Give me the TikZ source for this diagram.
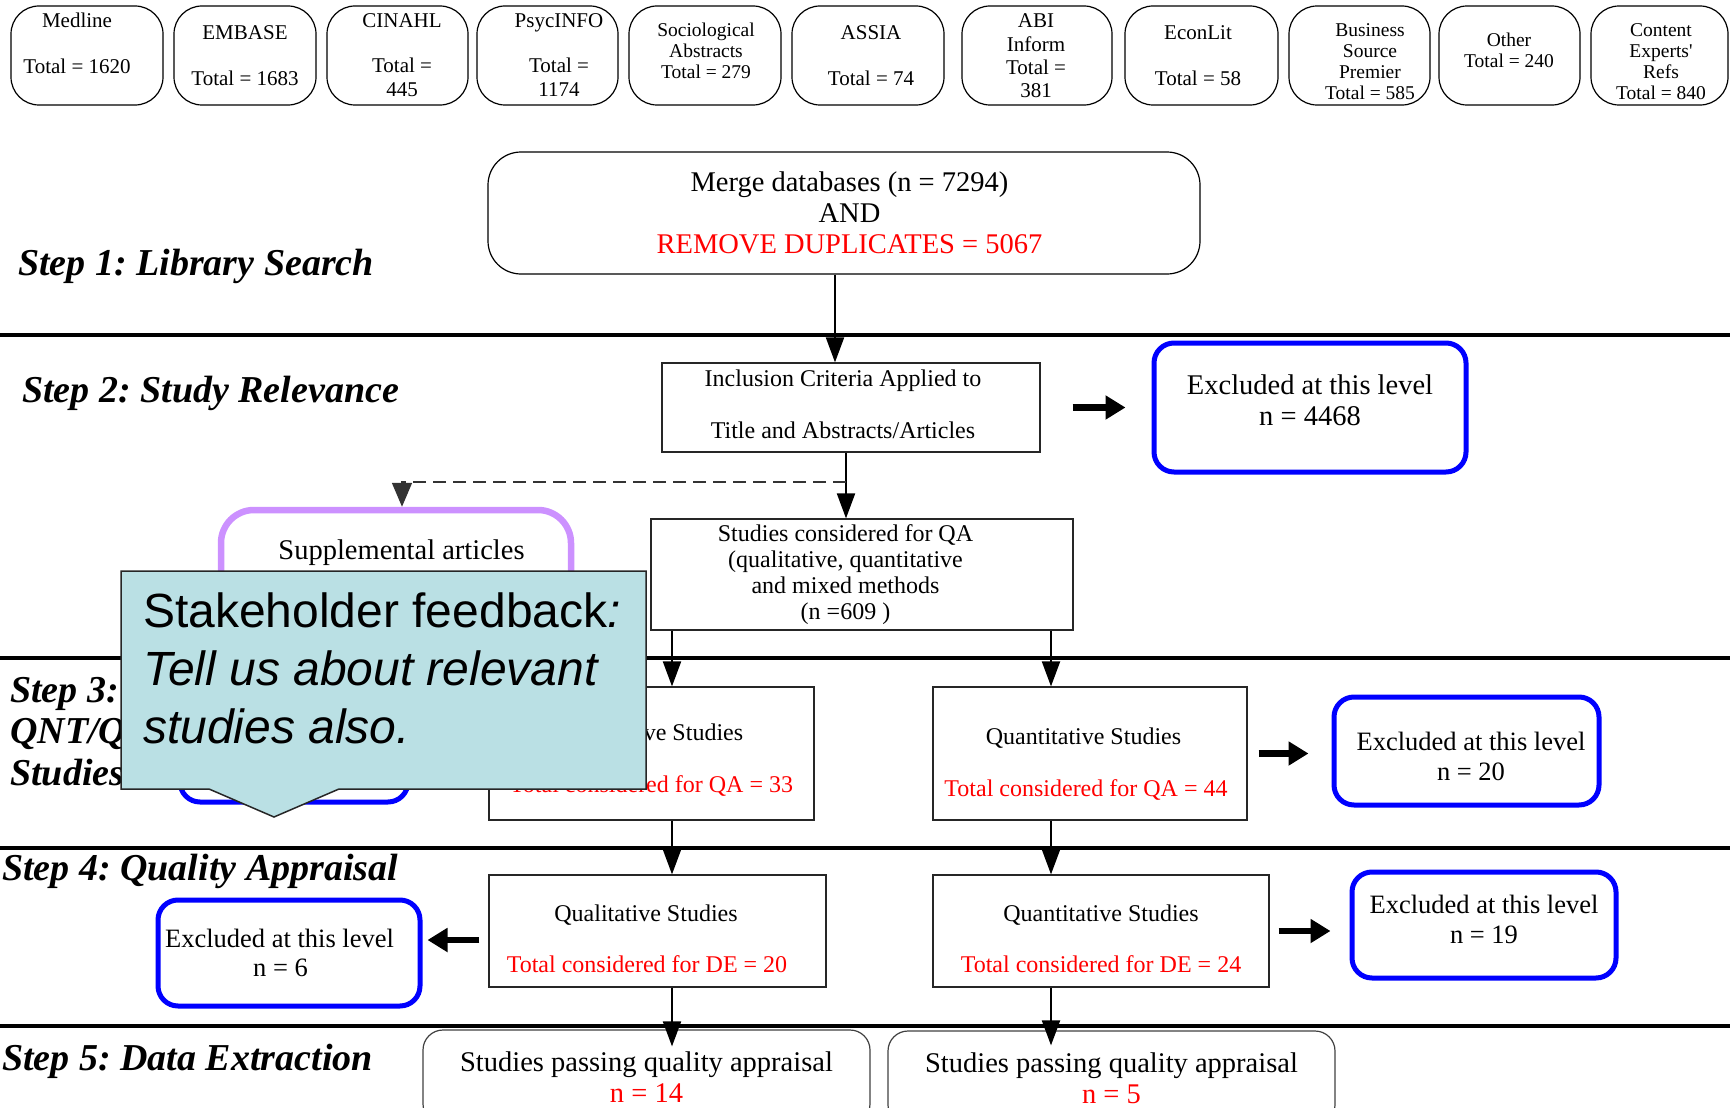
\documentclass[tikz,border=0pt]{standalone}
\usepackage{fontspec}
\setmainfont{Liberation Serif}
\setsansfont{Liberation Sans}
\usetikzlibrary{arrows.meta}
\definecolor{suppurple}{RGB}{204,145,255}
\definecolor{calloutblue}{RGB}{186,224,228}
\definecolor{exclblue}{RGB}{0,0,255}
\frenchspacing

\begin{document}
\begin{tikzpicture}[x=1pt, y=-1pt,
    dbbox/.style={draw, line width=1.2pt, rounded corners=28pt, minimum height=99pt, inner sep=0pt},
    dbtext/.style={align=center, inner sep=0pt, font=\fontsize{21}{23.3}\selectfont},
    dbsmall/.style={align=center, inner sep=0pt, font=\fontsize{19.5}{21}\selectfont},
    mergebox/.style={draw, line width=1.2pt, rounded corners=33pt, align=center, inner sep=2pt, font=\fontsize{28.5}{31}\selectfont},
    stagebox/.style={draw=black!85, line width=1.2pt, align=center, inner sep=2pt, font=\fontsize{24}{26}\selectfont},
    exclbox/.style={draw=exclblue, line width=5pt, rounded corners=20pt, align=center, inner sep=2pt, font=\fontsize{26.5}{29.5}\selectfont},
    suppbox/.style={draw=suppurple, line width=6.5pt, rounded corners=33pt, inner sep=2pt, font=\fontsize{28.5}{31}\selectfont},
    passbox/.style={draw=black!75, line width=1.2pt, rounded corners=20pt, align=center, inner sep=2pt, font=\fontsize{28.5}{31}\selectfont},
    steplabel/.style={inner sep=0pt, font=\bfseries\itshape\fontsize{38}{41.5}\selectfont},
    flow/.style={line width=2pt, -{Triangle[length=25pt,width=18pt]}},
    bigflow/.style={line width=6.5pt, -{Triangle[length=20pt,width=23pt]}},
    dashflow/.style={line width=1.7pt, draw=black!80, dash pattern=on 12.7pt off 7.3pt, -{Triangle[length=24pt,width=20pt]}},
    sepline/.style={line width=3.5pt},
    fbshape/.style={fill=calloutblue, draw=black!85, line width=1.5pt},
    fbtext/.style={align=left, inner sep=0pt, font=\sffamily\fontsize{48}{58}\selectfont}]
    \useasboundingbox (0,0) rectangle (1730,1108);

    % databases
    \node[dbbox, minimum width=152pt] (medline) at (87,55.5) {};
    \node[dbbox, minimum width=142pt] (embase) at (245,55.5) {};
    \node[dbbox, minimum width=141pt] (cinahl) at (397.5,55.5) {};
    \node[dbbox, minimum width=141pt] (psycinfo) at (547.5,55.5) {};
    \node[dbbox, minimum width=152pt] (socabs) at (705,55.5) {};
    \node[dbbox, minimum width=152pt] (assia) at (868,55.5) {};
    \node[dbbox, minimum width=150pt] (abi) at (1037,55.5) {};
    \node[dbbox, minimum width=153pt] (econlit) at (1201.5,55.5) {};
    \node[dbbox, minimum width=141pt] (bsp) at (1359.5,55.5) {};
    \node[dbbox, minimum width=141pt] (other) at (1509.5,55.5) {};
    \node[dbbox, minimum width=137pt] (experts) at (1659.5,55.5) {};

    \node[dbtext] (medlinetxt) at (77,43) {Medline\\[23pt]Total = 1620};
    \node[dbtext] (embasetxt) at (245,56) {EMBASE\\[23pt]Total = 1683};
    \node[dbtext] (cinahltxt) at (402,55) {CINAHL\\[22pt]Total =\\445};
    \node[dbtext] (psycinfotxt) at (559,55) {PsycINFO\\[22pt]Total =\\1174};
    \node[dbsmall] (socabstxt) at (706,50.5) {Sociological\\Abstracts\\Total = 279};
    \node[dbtext] (assiatxt) at (871,56) {ASSIA\\[23pt]Total = 74};
    \node[dbtext] (abitxt) at (1036,56) {ABI\\Inform\\Total =\\381};
    \node[dbtext] (econlittxt) at (1198,56) {EconLit\\[23pt]Total = 58};
    \node[dbsmall] (bsptxt) at (1370,61.5) {Business\\Source\\Premier\\Total = 585};
    \node[dbsmall] (othertxt) at (1509,50) {Other\\Total = 240};
    \node[dbsmall] (expertstxt) at (1661,62) {Content\\Experts{\addfontfeature{Ligatures=TeXOff}'}\\Refs\\Total = 840};

    % step rules and labels
    \draw[sepline] (0,335) -- (1730,335);
    \draw[sepline] (0,658) -- (1730,658);
    \draw[sepline] (0,848) -- (1730,848);
    \draw[sepline] (0,1026) -- (1730,1026);

    \node[steplabel, anchor=base west] (step1) at (18,275) {Step 1: Library Search};
    \node[steplabel, anchor=base west] (step2) at (22,402) {Step 2: Study Relevance};
    \node[steplabel, align=left, anchor=north west] (step3) at (10,677) {Step 3:\\QNT/QL\\Studies};
    \node[steplabel, anchor=base west] (step4) at (2,880) {Step 4: Quality Appraisal};
    \node[steplabel, anchor=base west] (step5) at (2,1070) {Step 5: Data Extraction};

    % flow boxes
    \node[mergebox, minimum width=712pt, minimum height=122pt] (merge) at (844,213)
        {\rule{11pt}{0pt}Merge databases (n = 7294)\\\rule{11pt}{0pt}AND\\\rule{11pt}{0pt}\textcolor{red}{REMOVE DUPLICATES = 5067}};
    \node[stagebox, minimum width=378pt, minimum height=89pt] (incl) at (851,407.5)
        {Inclusion Criteria Applied to\rule{16pt}{0pt}\\[26pt]Title and Abstracts/Articles\rule{16pt}{0pt}\rule[-7pt]{0pt}{7pt}};
    \node[exclbox, minimum width=312pt, minimum height=129pt, font=\fontsize{28.5}{31}\selectfont] (excl2) at (1310,407.5)
        {Excluded at this level\\n = 4468\rule[-14pt]{0pt}{14pt}};
    \node[suppbox, minimum width=350pt, minimum height=120pt, text depth=40pt] (supp) at (396,570)
        {\rule{11pt}{0pt}Supplemental articles};
    \node[stagebox, minimum width=422pt, minimum height=111pt] (studies) at (862,574.5)
        {Studies considered for QA\rule{33pt}{0pt}\\(qualitative, quantitative\rule{33pt}{0pt}\\and mixed methods\rule{33pt}{0pt}\\(n =609 )\rule{33pt}{0pt}};

    \node[exclbox, minimum width=228pt, minimum height=104pt] (exclql3) at (294,750) {};
    \node[stagebox, minimum width=325pt, minimum height=133pt] (qual3) at (651.5,753.5)
        {\rule{0pt}{29.5pt}Qualitative Studies\\[26pt]\textcolor{red}{Total considered for QA = 33}};
    \node[stagebox, minimum width=314pt, minimum height=133pt] (quant3) at (1090,753.5)
        {\rule{0pt}{37pt}Quantitative Studies\rule{13pt}{0pt}\\[26pt]\textcolor{red}{Total considered for QA = 44}\rule{8pt}{0pt}};
    \node[exclbox, minimum width=265pt, minimum height=108pt] (excl3) at (1466.5,751)
        {\rule{0pt}{29pt}\rule{9pt}{0pt}Excluded at this level\\\rule{9pt}{0pt}n = 20};

    \node[exclbox, minimum width=262pt, minimum height=106pt] (exclql4) at (289,953)
        {Excluded at this level\rule{19pt}{0pt}\\n = 6\rule{17pt}{0pt}};
    \node[stagebox, minimum width=337pt, minimum height=112pt] (qual4) at (657.5,931)
        {\rule{0pt}{33pt}Qualitative Studies\rule{23pt}{0pt}\\[25pt]\textcolor{red}{Total considered for DE = 20}\rule{21pt}{0pt}};
    \node[stagebox, minimum width=336pt, minimum height=112pt] (quant4) at (1101,931)
        {\rule{0pt}{33pt}Quantitative Studies\\[25pt]\textcolor{red}{Total considered for DE = 24}};
    \node[exclbox, minimum width=264pt, minimum height=106pt] (exclqn4) at (1484,925)
        {Excluded at this level\\n = 19\rule[-11pt]{0pt}{11pt}};

    \node[passbox, minimum width=447pt, minimum height=94pt] (pass1) at (646.5,1077)
        {Studies passing quality appraisal\\\textcolor{red}{n = 14}};
    \node[passbox, minimum width=447pt, minimum height=94pt] (pass2) at (1111.5,1078)
        {Studies passing quality appraisal\\\textcolor{red}{n = 5}};

    % connectors
    \coordinate (mcol) at (835,300);
    \coordinate (icol) at (846,482);
    \coordinate (qlcol) at (672,0);
    \coordinate (qncol) at (1051,0);

    \draw[flow] (merge.south -| mcol) -- (incl.north -| mcol);
    \draw[flow] (incl.south -| icol) -- (studies.north -| icol);
    \draw[dashflow] (icol) -| ([xshift=6pt]supp.north);
    \draw[flow] (studies.south -| qlcol) -- (qual3.north -| qlcol);
    \draw[flow] (studies.south -| qncol) -- (quant3.north -| qncol);
    \draw[flow] (qual3.south -| qlcol) -- (qual4.north -| qlcol);
    \draw[flow] (quant3.south -| qncol) -- (quant4.north -| qncol);
    \draw[flow, shorten >=-17pt] (qual4.south -| qlcol) -- (pass1.north -| qlcol);
    \draw[flow, shorten >=-15pt] (quant4.south -| qncol) -- (pass2.north -| qncol);

    \draw[bigflow, shorten <=32pt, shorten >=26pt] (incl.east) -- (incl.east -| excl2.west);
    \draw[bigflow, shorten <=11pt, shorten >=23pt] (quant3.east) -- (quant3.east -| excl3.west);
    \draw[bigflow, shorten <=9pt, shorten >=5pt] ([yshift=-9pt]qual4.west) -- ([yshift=-9pt]qual4.west -| exclql4.east);
    \draw[bigflow, shorten <=9pt, shorten >=19pt] (quant4.east) -- (quant4.east -| exclqn4.west);

    % stakeholder callout
    \filldraw[fbshape] (121,571) -- (646,571) -- (646,789) -- (339,789) -- (274,817)
        -- (209,789) -- (121,789) -- cycle;
    \node[fbtext, anchor=west] (feedback) at (143,668.5)
        {Stakeholder feedback\textit{:}\\\textit{Tell us about relevant}\\\textit{studies also.}};
\end{tikzpicture}
\end{document}
